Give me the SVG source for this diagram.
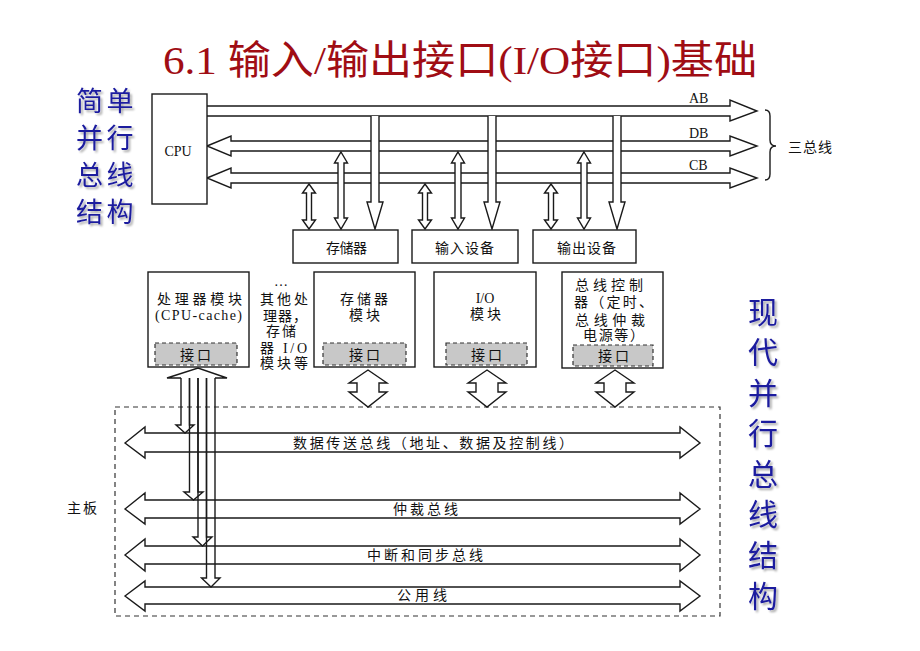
<svg xmlns="http://www.w3.org/2000/svg" width="920" height="651" viewBox="0 0 920 651">
<defs>
<filter id="sh" x="-20%" y="-20%" width="140%" height="140%">
<feGaussianBlur in="SourceAlpha" stdDeviation="0.8"/>
<feOffset dx="1.5" dy="1.5" result="o"/>
<feComponentTransfer><feFuncA type="linear" slope="0.35"/></feComponentTransfer>
<feMerge><feMergeNode/><feMergeNode in="SourceGraphic"/></feMerge>
</filter>
</defs>
<style>
.ln{fill:#fff;stroke:#1a1a1a;stroke-width:1.4;stroke-linejoin:miter}
.open{fill:none;stroke:#1a1a1a;stroke-width:1.4}
.box{fill:#fff;stroke:#1a1a1a;stroke-width:1.4}
.port{fill:#c8c8c8;stroke:#333;stroke-width:1.2;stroke-dasharray:4 3}
.board{fill:none;stroke:#333;stroke-width:1.2;stroke-dasharray:5 4}
.t{font-family:"Liberation Serif","Noto Sans CJK SC",serif;font-size:14px;fill:#111}
.c{text-anchor:middle}
.title{font-family:"Liberation Serif","Noto Sans CJK SC",serif;font-size:40px;fill:#A00D14}
.blue{font-family:"Noto Sans CJK SC",sans-serif;fill:#1A1A9E;filter:url(#sh)}
</style>
<rect width="920" height="651" fill="#fff"/>

<text class="title" x="163" y="74" textLength="594" lengthAdjust="spacingAndGlyphs">6.1 输入/输出接口(I/O接口)基础</text>

<g id="label-simple">
<text class="blue" font-size="27" letter-spacing="3.5"><tspan x="76" y="111">简单</tspan><tspan x="76" y="148">并行</tspan><tspan x="76" y="185">总线</tspan><tspan x="76" y="222">结构</tspan></text>
</g>
<g id="label-modern">
<text class="blue c" font-size="30"><tspan x="763" y="323">现</tspan><tspan x="763" y="363">代</tspan><tspan x="763" y="404">并</tspan><tspan x="763" y="444">行</tspan><tspan x="763" y="485">总</tspan><tspan x="763" y="525">线</tspan><tspan x="763" y="566">结</tspan><tspan x="763" y="607">构</tspan></text>
</g>

<g id="connectors-top">
<path class="ln" d="M207,106 H730 V100 L757,111 L730,121 V116 H207"/>
<path class="ln" d="M207,146 L231,136 V141 H730 V136 L757,146 L730,156 V151 H231 V156 Z"/>
<path class="ln" d="M207,178 L231,168 V173 H730 V168 L757,178 L730,188 V183 H231 V188 Z"/>
<path class="ln" d="M309,184 L315.5,193 H311.5 V220 H315.5 L309,229 L302.5,220 H306.5 V193 H302.5 Z"/>
<path class="ln" d="M341,152 L347.5,163 H344 V218 H347.5 L341,229 L334.5,218 H338 V163 H334.5 Z"/>
<path class="ln" d="M371,116 V202 H367 L375,229 L383,202 H379 V116"/>
<path class="ln" d="M425,184 L431.5,193 H427.5 V220 H431.5 L425,229 L418.5,220 H422.5 V193 H418.5 Z"/>
<path class="ln" d="M458,152 L464.5,163 H461 V218 H464.5 L458,229 L451.5,218 H455 V163 H451.5 Z"/>
<path class="ln" d="M488,116 V202 H484 L492,229 L500,202 H496 V116"/>
<path class="ln" d="M551,184 L557.5,193 H553.5 V220 H557.5 L551,229 L544.5,220 H548.5 V193 H544.5 Z"/>
<path class="ln" d="M584,152 L590.5,163 H587 V218 H590.5 L584,229 L577.5,218 H581 V163 H577.5 Z"/>
<path class="ln" d="M613,116 V202 H609 L617,229 L625,202 H621 V116"/>
<path class="open" d="M765,110 Q770,110 770,116 V140 Q770,146 776,146 Q770,146 770,152 V174 Q770,180 765,180"/>
</g>
<text class="t" x="689" y="103" font-size="13.5">AB</text>
<text class="t" x="689" y="138" font-size="13.5">DB</text>
<text class="t" x="689" y="170" font-size="13.5">CB</text>
<text class="t" x="788" y="152" font-size="13.5" textLength="44" lengthAdjust="spacing">三总线</text>

<g id="cpu">
<rect class="box" x="152" y="94" width="55" height="110"/>
<text class="t c" x="178" y="156">CPU</text>
</g>
<g id="memory">
<rect class="box" x="293" y="230" width="105" height="33"/>
<text class="t" x="326" y="253" font-size="13.5" textLength="41" lengthAdjust="spacing">存储器</text>
</g>
<g id="input-device">
<rect class="box" x="412" y="230" width="106" height="33"/>
<text class="t" x="435" y="253" font-size="13.5" textLength="59" lengthAdjust="spacing">输入设备</text>
</g>
<g id="output-device">
<rect class="box" x="533" y="230" width="103" height="33"/>
<text class="t" x="557" y="253" font-size="13.5" textLength="59" lengthAdjust="spacing">输出设备</text>
</g>

<g id="mainboard">
<rect class="board" x="115" y="407" width="605" height="209"/>
<text class="t" x="67" y="513" font-size="15" letter-spacing="2">主板</text>
</g>

<g id="connectors-bottom">
<path class="ln" d="M125,443 L145,427 V433 H680 V427 L700,443 L680,458 V452 H145 V458 Z"/>
<path class="ln" d="M125,509 L145,493 V500 H680 V493 L700,509 L680,524 V518 H145 V524 Z"/>
<path class="ln" d="M125,555 L145,539 V546 H680 V539 L700,555 L680,571 V564 H145 V571 Z"/>
<path class="ln" d="M125,596 L145,581 V587 H680 V581 L700,596 L680,611 V604 H145 V611 Z"/>
<path class="ln" d="M368,370 L387,383 H379 V392 H387 L368,407 L349,392 H357 V383 H349 Z"/>
<path class="ln" d="M487,370 L506,383 H498 V392 H506 L487,407 L468,392 H476 V383 H468 Z"/>
<path class="ln" d="M615,370 L634,383 H626 V392 H634 L615,407 L596,392 H604 V383 H596 Z"/>
<path class="ln" d="M181,378 H167 L198,368 L227,378 H215"/>
<path class="open" d="M181,378 V425 H176 L185,433 L194,425 H189.5 V378"/>
<path class="open" d="M189.5,378 V492 H184 L193.5,500 L203,492 H198 V378"/>
<path class="open" d="M198,378 V537 H193 L202.5,546 L212,537 H206.5 V378"/>
<path class="open" d="M206.5,378 V578 H201.5 L211,587 L220,578 H215 V378"/>
</g>
<text class="t" x="293" y="448" textLength="280" lengthAdjust="spacing">数据传送总线（地址、数据及控制线）</text>
<text class="t" x="393" y="514" textLength="65" lengthAdjust="spacing">仲裁总线</text>
<text class="t" x="367" y="560" textLength="116" lengthAdjust="spacing">中断和同步总线</text>
<text class="t" x="397" y="600" textLength="50" lengthAdjust="spacing">公用线</text>

<g id="cpu-module">
<rect class="box" x="148" y="272" width="101" height="95"/>
<text class="t" x="157" y="304" textLength="85" lengthAdjust="spacing">处理器模块</text>
<text class="t" x="155" y="320" font-size="15" textLength="87" lengthAdjust="spacing">(CPU-cache)</text>
<rect class="port" x="155" y="343" width="82" height="22"/>
<text class="t c" x="197" y="360" letter-spacing="3">接口</text>
</g>
<g id="other-modules">
<text class="t c" x="281" y="286">…</text>
<text class="t" x="260" y="303.5" textLength="48" lengthAdjust="spacing">其他处</text>
<text class="t" x="263" y="321" letter-spacing="1">理器，</text>
<text class="t" x="266" y="336" letter-spacing="2">存储</text>
<text class="t" x="260" y="353" textLength="47" lengthAdjust="spacing">器 I/O</text>
<text class="t" x="260" y="368" textLength="48" lengthAdjust="spacing">模块等</text>
</g>
<g id="memory-module">
<rect class="box" x="314" y="272" width="101" height="95"/>
<text class="t" x="340" y="303.5" textLength="48" lengthAdjust="spacing">存储器</text>
<text class="t" x="349" y="320" textLength="31" lengthAdjust="spacing">模块</text>
<rect class="port" x="323" y="343" width="83" height="22"/>
<text class="t c" x="366" y="360" letter-spacing="3">接口</text>
</g>
<g id="io-module">
<rect class="box" x="434" y="272" width="102" height="95"/>
<text class="t c" x="485" y="303">I/O</text>
<text class="t" x="470" y="318.5" textLength="31" lengthAdjust="spacing">模块</text>
<rect class="port" x="446" y="343" width="81" height="22"/>
<text class="t c" x="488" y="360" letter-spacing="3">接口</text>
</g>
<g id="bus-controller">
<rect class="box" x="562" y="272" width="101" height="96"/>
<text class="t" x="575" y="290" textLength="68" lengthAdjust="spacing">总线控制</text>
<text class="t" x="574" y="307" textLength="79" lengthAdjust="spacing">器（定时、</text>
<text class="t" x="575" y="325" textLength="70" lengthAdjust="spacing">总线仲裁</text>
<text class="t" x="583" y="340" textLength="61" lengthAdjust="spacing">电源等）</text>
<rect class="port" x="573" y="345" width="80" height="21"/>
<text class="t c" x="615" y="361" letter-spacing="3">接口</text>
</g>
</svg>
